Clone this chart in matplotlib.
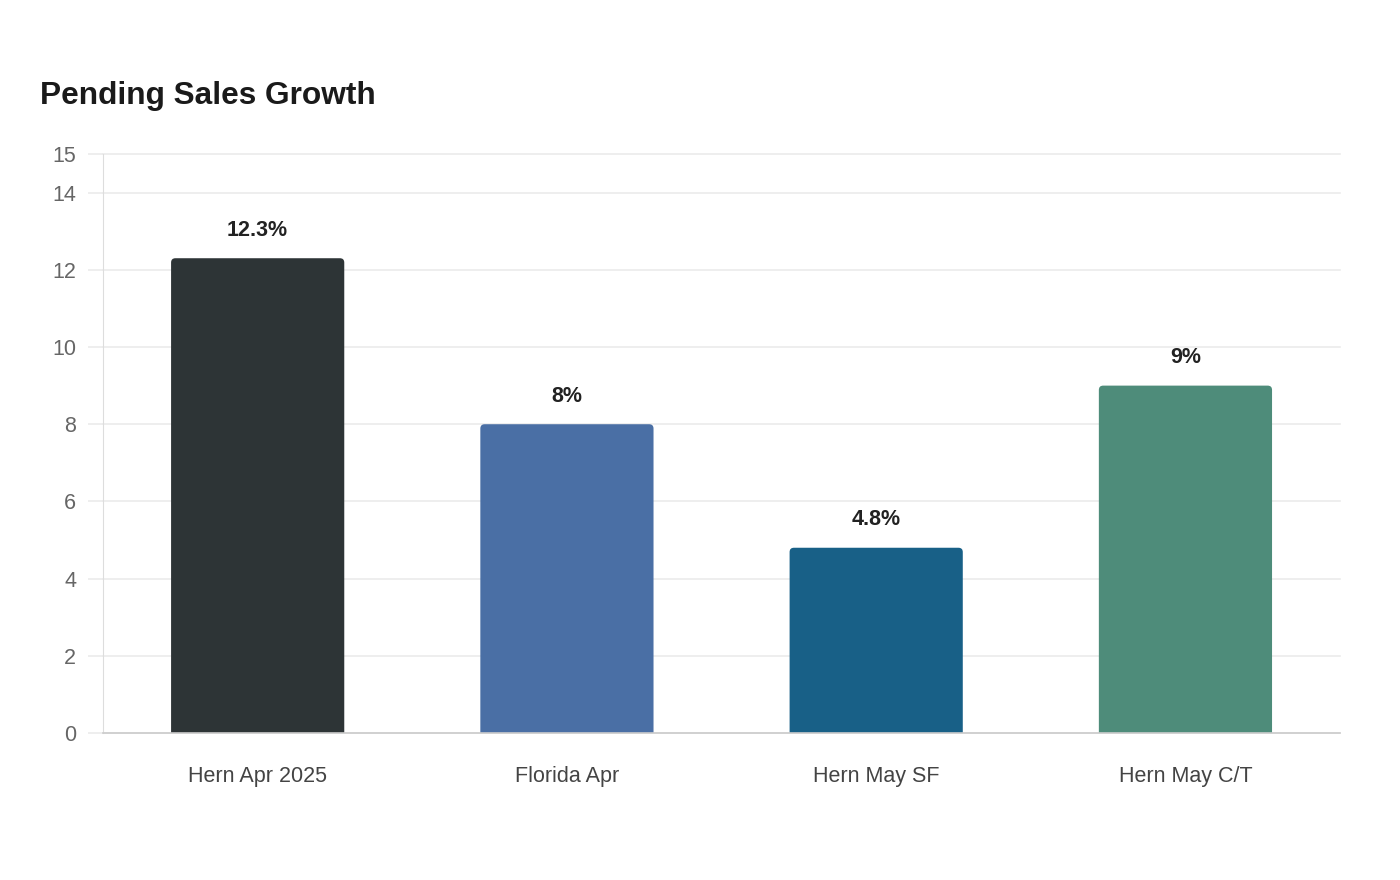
import matplotlib.pyplot as plt
from matplotlib.patches import FancyBboxPatch

plt.rcParams["font.family"] = ["Liberation Sans", "DejaVu Sans"]

categories = ["Hern Apr 2025", "Florida Apr", "Hern May SF", "Hern May C/T"]
growth = [12.3, 8.0, 4.8, 9.0]
labels = ["12.3%", "8%", "4.8%", "9%"]
colors = ["#2d3436", "#4a6fa5", "#186087", "#4e8c7a"]
yticks = [0, 2, 4, 6, 8, 10, 12, 14, 15]

fig = plt.figure(figsize=(14, 8.8), dpi=100)
ax = fig.add_axes([0.0736, 0.167, 0.8836, 0.658])

ax.set_xlim(-0.5, len(categories) - 0.5)
ax.set_ylim(0, 15)

width = 0.56
# rounded tops: radius in x units, aspect corrects for y scale
rad_x = 0.014
aspect = (15 / 579) / (4 / 1237)
for i, (v, c) in enumerate(zip(growth, colors)):
    box = FancyBboxPatch(
        (i - width / 2, -0.5), width, v + 0.5,
        boxstyle=f"round,pad=0,rounding_size={rad_x}",
        mutation_aspect=aspect,
        facecolor=c, edgecolor="none", zorder=3, clip_on=True,
    )
    ax.add_patch(box)
    ax.annotate(labels[i], (i, v), xytext=(0, 20), textcoords="offset points",
                ha="center", va="center", fontsize=15.5, fontweight="bold",
                color="#222222", zorder=4)

ax.set_yticks(yticks)
ax.set_yticklabels([str(t) for t in yticks])
ax.set_xticks(range(len(categories)))
ax.set_xticklabels(categories)

ax.grid(axis="y", color="#ebebeb", linewidth=1.2, zorder=0)
for gl in ax.get_ygridlines():
    gl.set_clip_on(False)
ax.tick_params(axis="y", length=10.8, color="#ebebeb", width=1.2, pad=8.6,
               labelsize=15.5, labelcolor="#666666")
ax.tick_params(axis="x", length=0, pad=24, labelsize=15.5, labelcolor="#444444")

for side in ["top", "right"]:
    ax.spines[side].set_visible(False)
ax.spines["left"].set_color("#dddddd")
ax.spines["left"].set_linewidth(0.8)
ax.spines["bottom"].set_color("#cccccc")
ax.spines["bottom"].set_linewidth(1.2)
ax.spines["bottom"].set_zorder(5)

fig.text(40 / 1400, 1 - 96 / 880, "Pending Sales Growth", fontsize=22.8,
         fontweight="bold", color="#1a1a1a", ha="left", va="center")

fig.savefig("out.png", dpi=100, facecolor="white")
